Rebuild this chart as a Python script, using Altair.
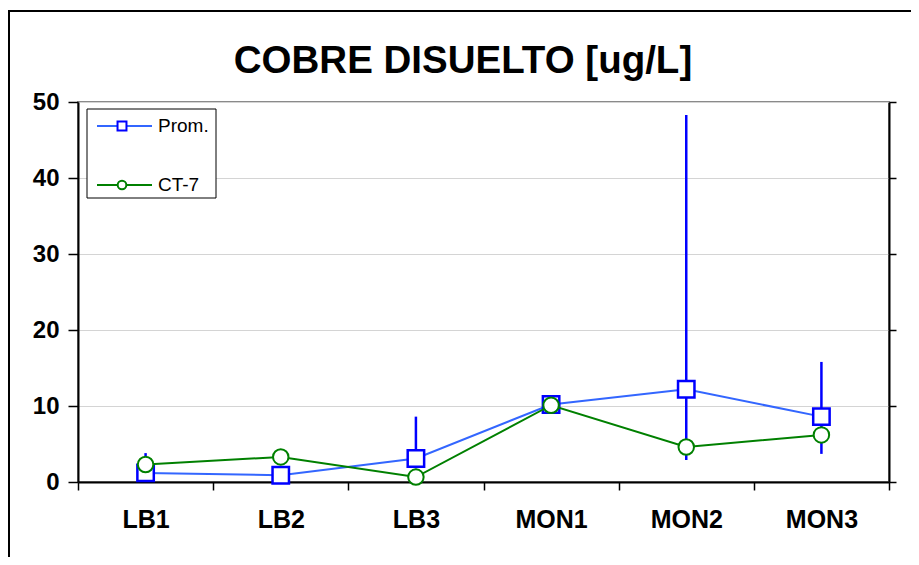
import altair as alt
import pandas as pd

# ---- data ----
categories = ["LB1", "LB2", "LB3", "MON1", "MON2", "MON3"]
prom = [1.2, 0.9, 3.1, 10.2, 12.2, 8.6]
prom_low = [0.5, 0.4, 1.8, 9.4, 2.9, 3.7]
prom_high = [3.8, 1.4, 8.6, 10.9, 48.3, 15.8]
ct7 = [2.3, 3.3, 0.65, 10.1, 4.6, 6.2]
series_names = ["Prom.", "CT-7"]
y_ticks = [0, 10, 20, 30, 40, 50]
title_text = "COBRE DISUELTO [ug/L]"

FONT = "Liberation Sans"
BLUE_LINE = "#3366ff"
BLUE = "#0000ff"
GREEN = "#008000"

df = pd.DataFrame({"cat": categories, "prom": prom, "lo": prom_low,
                   "hi": prom_high, "ct7": ct7})

W, H = 811, 380

xenc = alt.X(
    "cat:N", sort=categories,
    scale=alt.Scale(type="band", paddingInner=0, paddingOuter=0),
    axis=alt.Axis(title=None, labelAngle=0, tickBand="extent", tickSize=8,
                  labelPadding=17, labelFontSize=25, labelFontWeight="bold",
                  labelColor="black", labelFont=FONT, domainColor="black",
                  domainWidth=2, tickColor="black", tickWidth=1.5, grid=False),
)
yscale = alt.Scale(domain=[0, 50], nice=False, zero=True)
yaxis = alt.Axis(title=None, values=y_ticks, tickSize=10, labelPadding=9,
                 labelFontSize=24, labelFontWeight="bold", labelColor="black",
                 labelFont=FONT, domainColor="black", domainWidth=2,
                 tickColor="black", tickWidth=1.5, grid=True,
                 gridColor="#d4d4d4", gridWidth=1)

base = alt.Chart(df)

err = base.mark_rule(color=BLUE, strokeWidth=2.5).encode(
    x=xenc, y=alt.Y("lo:Q", scale=yscale, axis=yaxis), y2="hi:Q")
pline = base.mark_line(color=BLUE_LINE, strokeWidth=2).encode(
    x=xenc, y=alt.Y("prom:Q", scale=yscale, axis=yaxis))
ppts = base.mark_point(shape="square", size=270, filled=True, fill="white",
                       stroke=BLUE, strokeWidth=2.5, opacity=1).encode(
    x=xenc, y=alt.Y("prom:Q", scale=yscale, axis=yaxis))
cline = base.mark_line(color=GREEN, strokeWidth=2).encode(
    x=xenc, y=alt.Y("ct7:Q", scale=yscale, axis=yaxis))
cpts = base.mark_point(shape="circle", size=240, filled=True, fill="white",
                       stroke=GREEN, strokeWidth=2, opacity=1).encode(
    x=xenc, y=alt.Y("ct7:Q", scale=yscale, axis=yaxis))

main = alt.layer(err, pline, ppts, cline, cpts)

right = base.mark_point(opacity=0).encode(
    x=xenc,
    y=alt.Y("prom:Q", scale=yscale,
            axis=alt.Axis(orient="right", title=None, labels=False,
                          values=y_ticks, tickSize=7, tickColor="black",
                          tickWidth=1.5, domainColor="black", domainWidth=2,
                          grid=False)))

one = alt.Data(values=[{"k": 1}])

frame_left = alt.Chart(one).mark_rule(color="black", strokeWidth=2).encode(
    x=alt.value(-69), y=alt.value(-91), y2=alt.value(470))
frame_top = alt.Chart(one).mark_rule(color="black", strokeWidth=2).encode(
    x=alt.value(-70), x2=alt.value(860), y=alt.value(-91))

title = alt.Chart(one).mark_text(
    text=title_text, font=FONT, fontSize=38.5, fontWeight="bold",
    align="center", baseline="middle", color="black").encode(
    x=alt.value(385), y=alt.value(-41))

leg_box = alt.Chart(one).mark_rect(fill="white", stroke="black",
                                   strokeWidth=1).encode(
    x=alt.value(9), x2=alt.value(138), y=alt.value(7), y2=alt.value(96))

legend_layers = []
leg_specs = [
    (series_names[0], 24, BLUE_LINE, BLUE, "square", 80),
    (series_names[1], 83, GREEN, GREEN, "circle", 75),
]
for name, ly, lcol, mcol, shape, msize in leg_specs:
    d = alt.Data(values=[{"label": name}])
    legend_layers.append(alt.Chart(d).mark_rule(color=lcol, strokeWidth=2).encode(
        x=alt.value(19), x2=alt.value(74), y=alt.value(ly)))
    legend_layers.append(alt.Chart(d).mark_point(
        shape=shape, size=msize, filled=True, fill="white", stroke=mcol,
        strokeWidth=2, opacity=1).encode(x=alt.value(44), y=alt.value(ly)))
    legend_layers.append(alt.Chart(d).mark_text(
        font=FONT, fontSize=19, align="left", baseline="middle",
        color="black").encode(x=alt.value(80), y=alt.value(ly),
                              text="label:N"))

chart = alt.layer(
    frame_left, frame_top, title, main, right, leg_box, *legend_layers
).resolve_scale(y="independent").properties(
    width=W, height=H,
    padding={"left": 70, "top": 94, "right": 22, "bottom": 75},
    autosize=alt.AutoSizeParams(type="none"),
    background="white",
).configure_view(stroke="#8a8a8a", strokeWidth=2)

chart.save("out.html", embed_options={"renderer": "svg", "actions": False})
